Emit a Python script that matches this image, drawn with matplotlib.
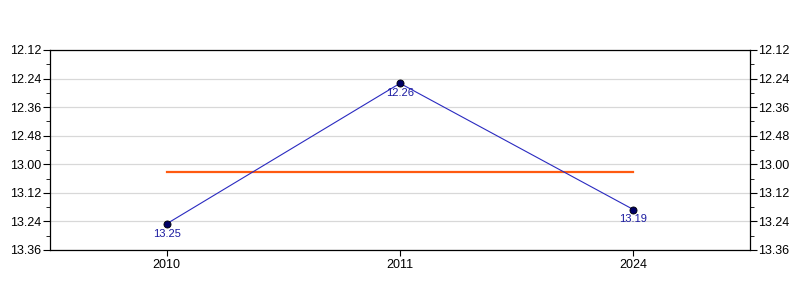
import matplotlib.pyplot as plt
from matplotlib.ticker import FuncFormatter, MultipleLocator

years = ['2010', '2011', '2024']
times = ['13.25', '12.26', '13.19']  # min.sec


def to_sec(t):
    m, s = t.split('.')
    return int(m) * 60 + int(s)


def fmt_time(v, pos=None):
    v = int(round(v))
    return '%d.%02d' % (v // 60, v % 60)


secs = [to_sec(t) for t in times]
avg = sum(secs) / len(secs)
x = list(range(len(years)))

plt.rcParams['font.family'] = ['Liberation Sans', 'DejaVu Sans']

fig = plt.figure(figsize=(8, 3), dpi=100)
ax = fig.add_axes([0.0625, 1 / 6, 0.875, 2 / 3])

ax.plot([x[0], x[-1]], [avg, avg], color='#ff5a10', lw=1.6, zorder=2)
ax.plot(x, secs, color='#2a2ac0', lw=0.8, zorder=3)
ax.scatter(x, secs, s=26, color='#000066', edgecolors='black', linewidths=0.6, zorder=4)
for xi, s, t in zip(x, secs, times):
    ax.annotate(t, (xi, s), xytext=(0, -3.5), textcoords='offset points',
                ha='center', va='top', fontsize=8, color='#1a1aa0')

ax.set_xlim(-0.5, len(years) - 0.5)
ax.set_xticks(x)
ax.set_xticklabels(years)
ax.set_ylim(to_sec('13.36'), to_sec('12.12'))
ax.yaxis.set_major_locator(MultipleLocator(12))
ax.yaxis.set_minor_locator(MultipleLocator(6))
ax.yaxis.set_major_formatter(FuncFormatter(fmt_time))
ax.grid(axis='y', which='major', color='#d8d8d8', lw=0.9)
ax.set_axisbelow(True)

ax.tick_params(axis='y', which='both', left=True, right=True, labelleft=True, labelright=True,
               labelsize=9, direction='out', pad=1)
ax.tick_params(axis='y', which='major', length=5)
ax.tick_params(axis='y', which='minor', length=3)
ax.tick_params(axis='x', labelsize=9, length=4.5, pad=2, direction='out')
for sp in ax.spines.values():
    sp.set_linewidth(0.9)

fig.savefig('out.png', dpi=100)
